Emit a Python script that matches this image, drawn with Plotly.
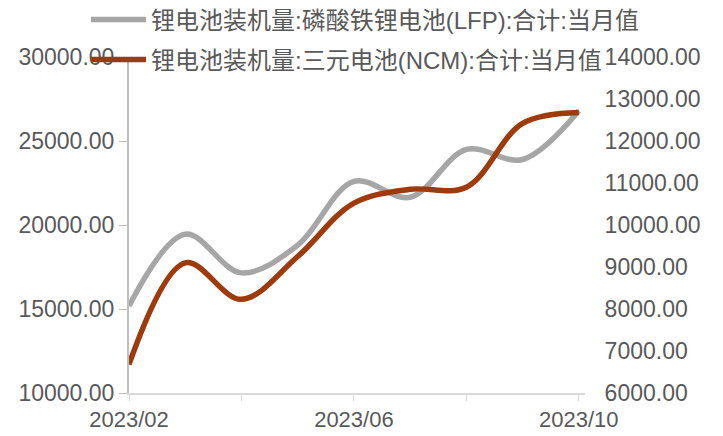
import plotly.graph_objects as go

months = ["2023/02", "2023/03", "2023/04", "2023/05", "2023/06", "2023/07", "2023/08", "2023/09", "2023/10"]
lfp = [15180, 19450, 17150, 18800, 22600, 21650, 24500, 23900, 26800]
ncm = [6680, 9100, 8230, 9250, 10520, 10850, 10900, 12420, 12680]
name_lfp = "锂电池装机量:磷酸铁锂电池(LFP):合计:当月值"
name_ncm = "锂电池装机量:三元电池(NCM):合计:当月值"
left_ticks = [10000, 15000, 20000, 25000, 30000]
right_ticks = [6000, 7000, 8000, 9000, 10000, 11000, 12000, 13000, 14000]
x_tick_months = ["2023/02", "2023/04", "2023/06", "2023/08", "2023/10"]
x_tick_labels = ["2023/02", "", "2023/06", "", "2023/10"]

xi = list(range(len(months)))
FONT = "Liberation Sans, Arial, Noto Sans CJK SC, sans-serif"
TXT = "#595959"

# page body has an 8px margin, so figure is sized/placed to compensate
W, H = 715, 428

fig = go.Figure()
fig.add_trace(go.Scatter(
    x=xi, y=lfp, name=name_lfp, mode="lines", showlegend=True,
    line=dict(color="#A6A6A6", width=5.5, shape="spline", smoothing=1),
    yaxis="y", legend="legend"))
fig.add_trace(go.Scatter(
    x=xi, y=ncm, name=name_ncm, mode="lines", showlegend=True,
    line=dict(color="#9E3A0B", width=5.5, shape="spline", smoothing=1),
    yaxis="y2", legend="legend2"))

tickvals_x = [xi[months.index(m)] for m in x_tick_months]

fig.update_layout(
    width=W, height=H, showlegend=True,
    margin=dict(l=121, r=138, t=49, b=43, autoexpand=False),
    paper_bgcolor="white", plot_bgcolor="white",
    font=dict(family=FONT, size=23, color=TXT),
    xaxis=dict(range=[0, 8.11], tickvals=tickvals_x, ticktext=x_tick_labels,
               showgrid=False, zeroline=False, showline=True, linecolor="#D9D9D9",
               linewidth=2, ticks="outside", ticklen=6, tickcolor="#D9D9D9",
               automargin=False, tickfont=dict(size=22, color=TXT)),
    yaxis=dict(range=[10000, 30000], tickvals=left_ticks, tickformat=".2f",
               showgrid=False, zeroline=False, showline=True, linecolor="#BFBFBF",
               linewidth=2, ticks="outside", ticklen=8, tickcolor="#BFBFBF",
               automargin=False, tickfont=dict(size=23, color=TXT)),
    yaxis2=dict(range=[6000, 14000], tickvals=right_ticks, tickformat=".2f",
                overlaying="y", side="right", showgrid=False, zeroline=False,
                showline=False, ticks="outside", ticklen=14,
                tickcolor="rgba(0,0,0,0)", automargin=False,
                tickfont=dict(size=23, color=TXT)),
    legend=dict(xref="container", yref="container", x=78/W, y=1-12/H,
                xanchor="left", yanchor="middle", bgcolor="rgba(0,0,0,0)",
                itemwidth=55, font=dict(size=24, color=TXT)),
    legend2=dict(xref="container", yref="container", x=78/W, y=1-52/H,
                 xanchor="left", yanchor="middle", bgcolor="rgba(0,0,0,0)",
                 itemwidth=55, font=dict(size=24, color=TXT)),
)

fig.write_html("out.html")
